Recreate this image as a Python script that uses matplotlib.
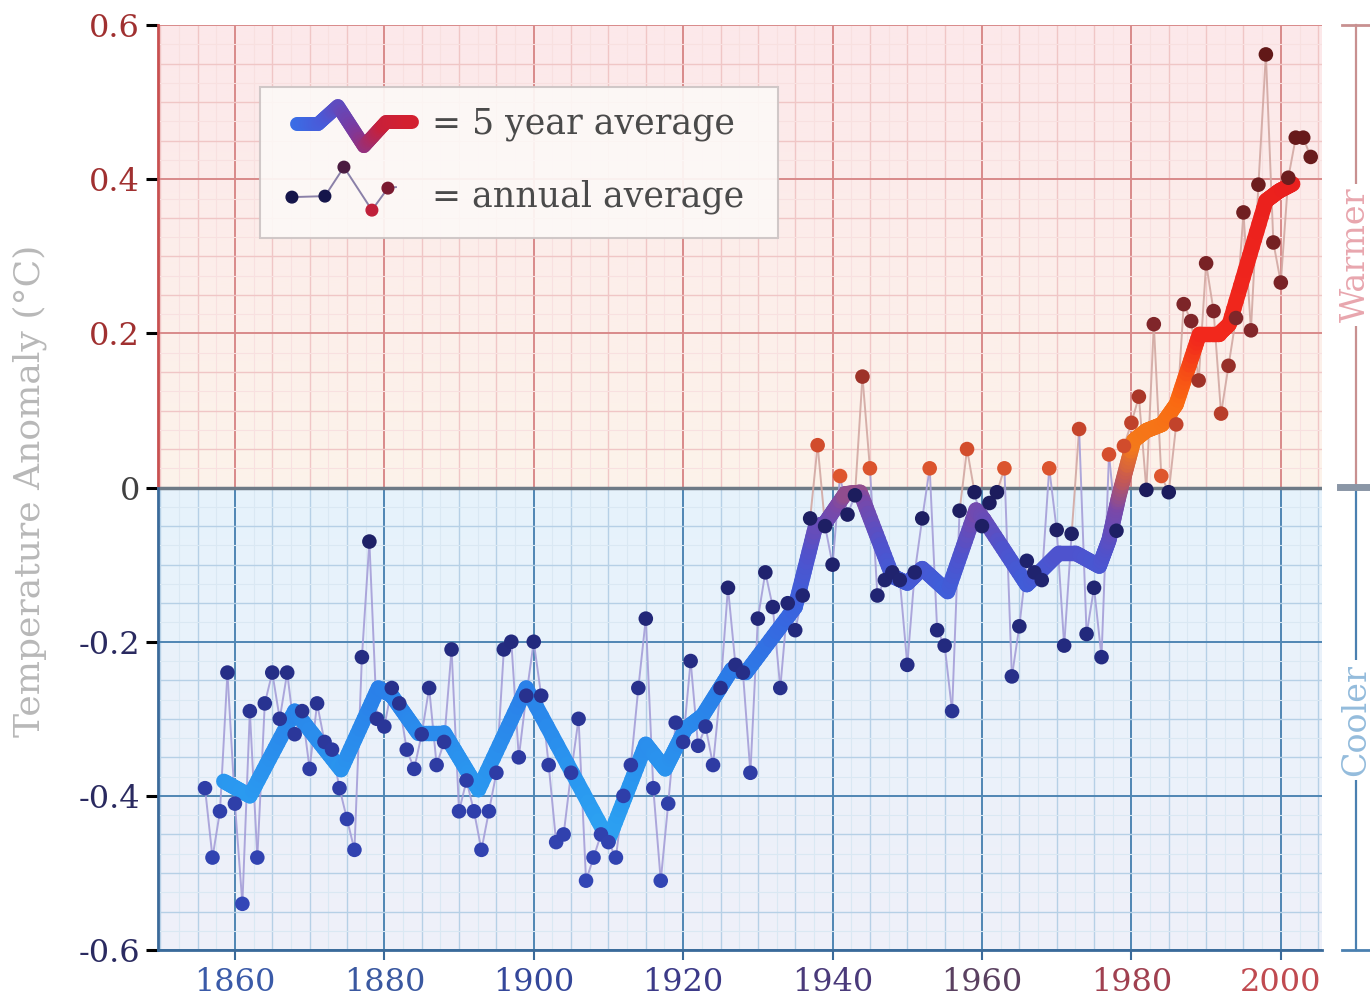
import numpy as np
import matplotlib
matplotlib.use("Agg")
import matplotlib.pyplot as plt
from matplotlib.collections import LineCollection
from matplotlib.colors import LinearSegmentedColormap
from matplotlib.lines import Line2D
from matplotlib.patches import Rectangle

plt.rcParams['font.family'] = ['DejaVu Serif']

# annual global temperature anomaly (1856-2004)
years = np.arange(1856, 2005)
annual = [
    -0.39, -0.48, -0.42, -0.24,
    -0.41, -0.54, -0.29, -0.48, -0.28, -0.24, -0.30, -0.24, -0.32, -0.29,
    -0.365, -0.28, -0.33, -0.34, -0.39, -0.43, -0.47, -0.22, -0.07, -0.30,
    -0.31, -0.26, -0.28, -0.34, -0.365, -0.32, -0.26, -0.36, -0.33, -0.21,
    -0.42, -0.38, -0.42, -0.47, -0.42, -0.37, -0.21, -0.20, -0.35, -0.27,
    -0.20, -0.27, -0.36, -0.46, -0.45, -0.37, -0.30, -0.51, -0.48, -0.45,
    -0.46, -0.48, -0.40, -0.36, -0.26, -0.17, -0.39, -0.51, -0.41, -0.305,
    -0.33, -0.225, -0.335, -0.31, -0.36, -0.26, -0.13, -0.23, -0.24, -0.37,
    -0.17, -0.11, -0.155, -0.26, -0.15, -0.185, -0.14, -0.04, 0.055, -0.05,
    -0.10, 0.015, -0.035, -0.01, 0.144, 0.025, -0.14, -0.12, -0.11, -0.12,
    -0.23, -0.11, -0.04, 0.025, -0.185, -0.205, -0.29, -0.03, 0.05, -0.006,
    -0.05, -0.02, -0.006, 0.025, -0.245, -0.18, -0.095, -0.11, -0.12, 0.025,
    -0.055, -0.205, -0.06, 0.076, -0.19, -0.13, -0.22, 0.043, -0.056, 0.054,
    0.084, 0.118, -0.003, 0.212, 0.015, -0.006, 0.082, 0.238, 0.216, 0.139,
    0.291, 0.229, 0.096, 0.158, 0.22, 0.357, 0.204, 0.393, 0.562, 0.318,
    0.266, 0.402, 0.454, 0.454, 0.429,
]

# 5 year average line (vertices)
avg_years = [1858.5, 1862, 1868, 1874.2, 1879.2, 1881, 1884.5, 1888, 1892.6,
             1899, 1910, 1915, 1917.6, 1920.3, 1922.6, 1926.5, 1928.4, 1935,
             1937.7, 1939, 1941.7, 1943.7, 1948, 1950, 1952, 1955.4, 1959.2,
             1960.3, 1966, 1967.6, 1970.3, 1972.5, 1975.7, 1977, 1978.3,
             1980.3, 1982, 1984.1, 1986, 1989.1, 1991.7, 1993.1, 1998,
             1999.8, 2001.6]
avg_vals = [-0.381, -0.40, -0.29, -0.366, -0.26, -0.27, -0.318, -0.318, -0.392,
            -0.26, -0.457, -0.333, -0.365, -0.313, -0.296, -0.236, -0.24, -0.155,
            -0.051, -0.046, -0.008, -0.006, -0.115, -0.124, -0.105, -0.135, -0.029,
            -0.042, -0.126, -0.111, -0.085, -0.085, -0.102, -0.068, -0.012,
            0.061, 0.074, 0.082, 0.108, 0.199, 0.199, 0.212, 0.372,
            0.385, 0.394]

x_ticks = [1860, 1880, 1900, 1920, 1940, 1960, 1980, 2000]
x_tick_colors = ['#3a5aa8', '#3a58a0', '#34479a', '#3c3a88',
                 '#4a3a7a', '#5a4060', '#a04050', '#c04a50']
y_ticks = [-0.6, -0.4, -0.2, 0, 0.2, 0.4, 0.6]
y_tick_labels = ['-0.6', '-0.4', '-0.2', '0', '0.2', '0.4', '0.6']
y_tick_colors = ['#2a2a60', '#2a2a60', '#2a2a60', '#404040',
                 '#a03030', '#a03030', '#a03030']

# legend sample glyphs (in legend box pixel units)
legend_wave_x = [37, 58, 78, 104, 126, 152]
legend_wave_y = [37, 37, 19, 59, 35, 35]
legend_dots_x = [32, 65, 84, 112, 128]
legend_dots_y = [110, 109, 80, 123, 101]
legend_dot_colors = ['#15154a', '#15154a', '#4a1a40', '#c0203a', '#7a1a30']

XMIN, XMAX = 1849.7, 2005.5

# colour maps
line_stops = [(-0.50, '#2fa8f2'), (-0.40, '#2a9af0'), (-0.25, '#2a7ee8'),
              (-0.15, '#3a62de'), (-0.08, '#5052cc'), (-0.02, '#7a48a8'),
              (0.02, '#c85a50'), (0.06, '#f47a1a'), (0.12, '#fa6a12'),
              (0.20, '#f2281c'), (0.45, '#e81e1e')]
lo, hi = line_stops[0][0], line_stops[-1][0]
line_cmap = LinearSegmentedColormap.from_list(
    'avg', [((v - lo) / (hi - lo), c) for v, c in line_stops])

cool_dot = LinearSegmentedColormap.from_list(
    'cool', ['#1c1c5c', '#22287a', '#2e3ca5', '#3347b8'])
warm_dot = LinearSegmentedColormap.from_list(
    'warm', [(0, '#e35a2e'), (0.12, '#cf4a2c'), (0.25, '#a53528'),
             (0.42, '#80262a'), (1.0, '#621818')])


def dot_color(v):
    if v < 0:
        return cool_dot(min(-v / 0.55, 1.0))
    return warm_dot(min(v / 0.5, 1.0))


def main():
    fig = plt.figure(figsize=(13.7, 10.01), dpi=100)
    ax = fig.add_axes([0.1153, 0.0509, 0.8496, 0.924])
    ax.set_xlim(XMIN, XMAX)
    ax.set_ylim(-0.6, 0.6)

    # background gradients
    warm_bg = LinearSegmentedColormap.from_list('wbg', ['#fdf3ea', '#fce8ea'])
    cool_bg = LinearSegmentedColormap.from_list('cbg', ['#eff0f9', '#e6f3fc'])
    grad = np.linspace(0, 1, 256).reshape(-1, 1)
    ax.imshow(grad, cmap=warm_bg, extent=[XMIN, XMAX, 0, 0.6],
              origin='lower', aspect='auto', zorder=0)
    ax.imshow(grad, cmap=cool_bg, extent=[XMIN, XMAX, -0.6, 0],
              origin='lower', aspect='auto', zorder=0)

    # grid
    warm_grid = {'major': ('#d98a8a', 1.4), 'minor': ('#f0c6c6', 1.0),
                 'faint': ('#f8e0e0', 0.8)}
    cool_grid = {'major': ('#4f86b4', 1.4), 'minor': ('#b6d0e6', 1.0),
                 'faint': ('#dae8f3', 0.8)}
    for x in np.arange(1850, 2005.1, 2.5):
        lvl = 'major' if x % 20 == 0 else ('minor' if x % 5 == 0 else 'faint')
        ax.vlines(x, 0, 0.6, color=warm_grid[lvl][0], lw=warm_grid[lvl][1], zorder=1)
        ax.vlines(x, -0.6, 0, color=cool_grid[lvl][0], lw=cool_grid[lvl][1], zorder=1)
    for i in range(-24, 25):
        y = i * 0.025
        lvl = 'major' if i % 8 == 0 else ('minor' if i % 2 == 0 else 'faint')
        g = warm_grid if y > 0 else cool_grid
        if i != 0:
            ax.hlines(y, XMIN, XMAX, color=g[lvl][0], lw=g[lvl][1], zorder=1)
    ax.axhline(0, color='#6d7a86', lw=2.5, zorder=2)

    # annual thin line
    pts = np.column_stack([years, annual])
    segs = np.stack([pts[:-1], pts[1:]], axis=1)
    mids = (np.array(annual[:-1]) + np.array(annual[1:])) / 2
    seg_cols = ['#a59ed8' if m < 0 else '#d2a8a2' for m in mids]
    ax.add_collection(LineCollection(segs, colors=seg_cols, linewidths=1.4,
                                     alpha=0.9, zorder=3))

    # 5 year average thick gradient line
    xs, ys = [], []
    for i in range(len(avg_years) - 1):
        t = np.linspace(0, 1, 16, endpoint=False)
        xs.extend(avg_years[i] + t * (avg_years[i + 1] - avg_years[i]))
        ys.extend(avg_vals[i] + t * (avg_vals[i + 1] - avg_vals[i]))
    xs.append(avg_years[-1])
    ys.append(avg_vals[-1])
    p = np.column_stack([xs, ys])
    s = np.stack([p[:-1], p[1:]], axis=1)
    m = (p[:-1, 1] + p[1:, 1]) / 2
    lc = LineCollection(s, colors=line_cmap((m - lo) / (hi - lo)),
                        linewidths=11, capstyle='round', joinstyle='round',
                        zorder=4)
    ax.add_collection(lc)

    # annual dots
    ax.scatter(years, annual, s=110, c=[dot_color(v) for v in annual],
               edgecolors='none', zorder=5)

    # axes styling
    for sp in ['top', 'right', 'left']:
        ax.spines[sp].set_visible(False)
    ax.spines['bottom'].set_color('#3a6a9a')
    ax.spines['bottom'].set_linewidth(2)
    ax.plot([XMIN, XMIN], [0, 0.6], color='#c85050', lw=2, clip_on=False, zorder=6)
    ax.plot([XMIN, XMIN], [-0.6, 0], color='#3a6a9a', lw=2, clip_on=False, zorder=6)

    ax.set_xticks(x_ticks)
    ax.set_xticklabels([str(x) for x in x_ticks], fontsize=23)
    ax.set_yticks(y_ticks)
    ax.set_yticklabels(y_tick_labels, fontsize=23)
    ax.tick_params(axis='x', length=7, width=1.5, pad=5, colors='#3a6a9a')
    ax.tick_params(axis='y', length=9, width=2.2, pad=4)
    for lab, c in zip(ax.get_xticklabels(), x_tick_colors):
        lab.set_color(c)
    for tick, lab, c in zip(ax.yaxis.get_major_ticks(), ax.get_yticklabels(),
                            y_tick_colors):
        lab.set_color(c)
        tick.tick1line.set_color(c)

    fig.text(0.022, 0.51, 'Temperature Anomaly (\u00b0C)', rotation=90,
             ha='center', va='center', fontsize=26, color='#b8b8b8')

    # legend box
    leg = ax.inset_axes([0.0876, 0.7697, 0.445, 0.1633])
    leg.set_xlim(0, 518)
    leg.set_ylim(151, 0)
    leg.axis('off')
    leg.set_zorder(7)
    leg.add_patch(Rectangle((0, 0), 518, 151, facecolor='#fdf9f7',
                            edgecolor='#cdc4c4', lw=1.5, alpha=0.92,
                            clip_on=False))
    wp = np.column_stack([legend_wave_x, legend_wave_y])
    wxs, wys = [], []
    for i in range(len(wp) - 1):
        t = np.linspace(0, 1, 16, endpoint=False)
        wxs.extend(wp[i, 0] + t * (wp[i + 1, 0] - wp[i, 0]))
        wys.extend(wp[i, 1] + t * (wp[i + 1, 1] - wp[i, 1]))
    wxs.append(wp[-1, 0])
    wys.append(wp[-1, 1])
    wpp = np.column_stack([wxs, wys])
    wseg = np.stack([wpp[:-1], wpp[1:]], axis=1)
    leg_cmap = LinearSegmentedColormap.from_list(
        'leg', ['#3a6ee6', '#4a5ad8', '#7a3aa0', '#c8203a', '#d42030'])
    frac = (wpp[:-1, 0] - wxs[0]) / (wxs[-1] - wxs[0])
    leg.add_collection(LineCollection(wseg, colors=leg_cmap(frac), linewidths=10,
                                      capstyle='round', joinstyle='round'))
    leg.plot(legend_dots_x + [legend_dots_x[-1] + 8],
             legend_dots_y + [legend_dots_y[-1] - 1],
             color='#8a80a8', lw=1.4, zorder=1)
    leg.scatter(legend_dots_x, legend_dots_y, s=70, c=legend_dot_colors, zorder=2)
    leg.text(172, 37, '= 5 year average', fontsize=25, color='#4a4a4a',
             va='center', ha='left')
    leg.text(172, 110, '= annual average', fontsize=25, color='#4a4a4a',
             va='center', ha='left')

    # Warmer / Cooler brackets on the right
    bx = 1356 / 1370

    def fy(py):
        return 1 - py / 1001

    fig.add_artist(Line2D([bx, bx], [fy(25), fy(487)], color='#c89090', lw=1.6))
    fig.add_artist(Line2D([1342 / 1370, 1370 / 1370], [fy(25), fy(25)],
                          color='#c89090', lw=2))
    fig.add_artist(Line2D([bx, bx], [fy(487), fy(950)], color='#4a80b0', lw=1.6))
    fig.add_artist(Line2D([1342 / 1370, 1370 / 1370], [fy(950), fy(950)],
                          color='#4a80b0', lw=2))
    fig.add_artist(Line2D([1340 / 1370, 1370 / 1370], [fy(487), fy(487)],
                          color='#8a96a6', lw=5))
    fig.text(bx, fy(255), 'Warmer', rotation=90, ha='center', va='center',
             fontsize=24, color='#e8a6ae',
             bbox=dict(facecolor='white', edgecolor='none', pad=3))
    fig.text(bx, fy(720), 'Cooler', rotation=90, ha='center', va='center',
             fontsize=24, color='#94bcdc',
             bbox=dict(facecolor='white', edgecolor='none', pad=3))

    fig.savefig('out.png', dpi=100, facecolor='white')


if __name__ == "__main__":
    main()
